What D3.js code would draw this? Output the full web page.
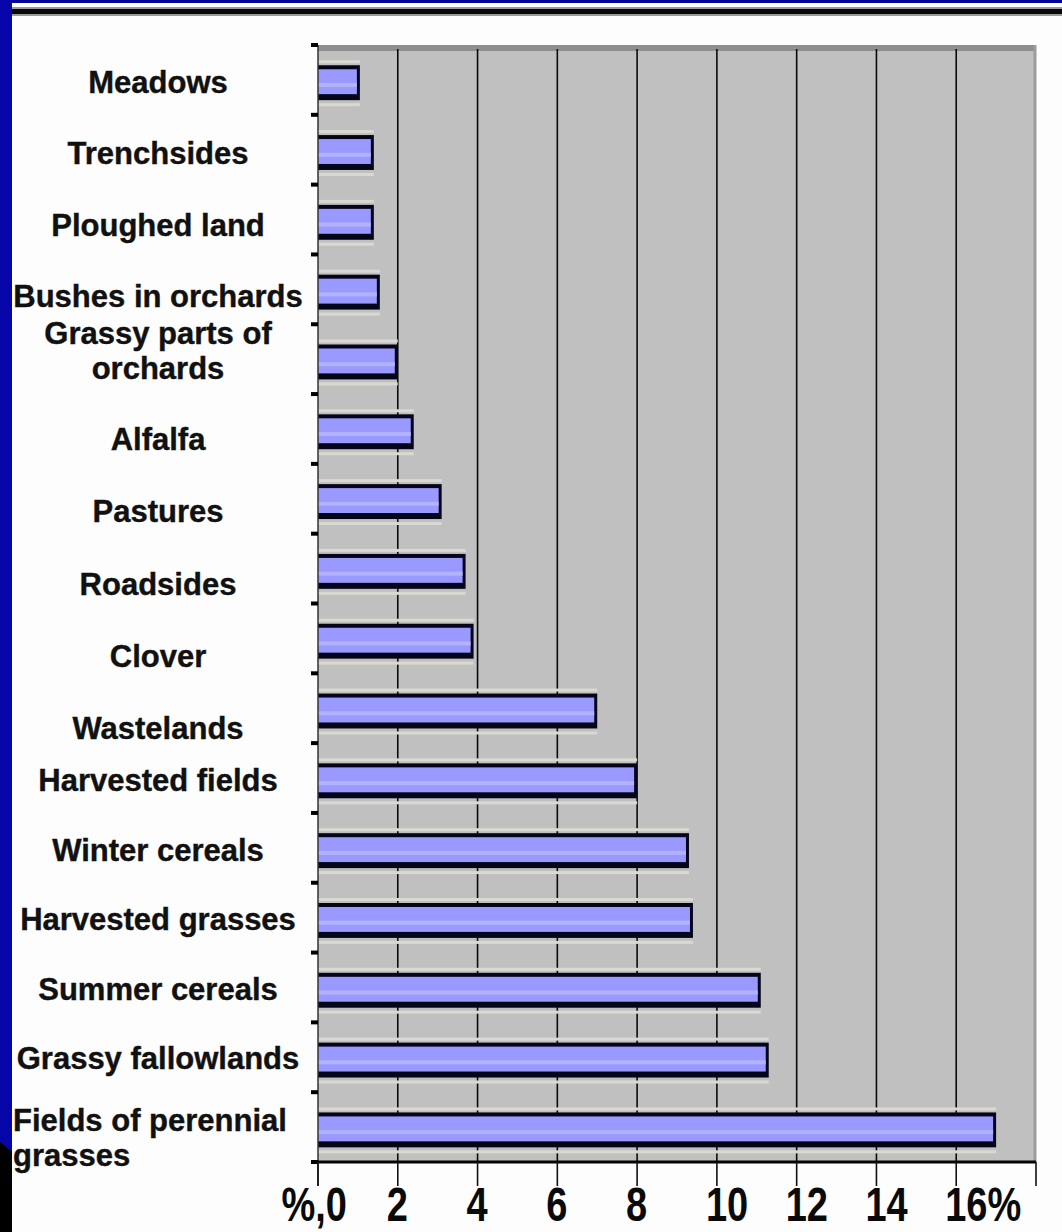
<!DOCTYPE html>
<html>
<head>
<meta charset="utf-8">
<script src="https://cdn.jsdelivr.net/npm/d3@7"></script>
<style>
  html, body { margin: 0; padding: 0; background: #fdfdfd; }
  svg { display: block; }
  text { font-family: "Liberation Sans", Arial, sans-serif; font-weight: bold; fill: #111; }
</style>
</head>
<body>
<svg id="chart" width="1062" height="1232"></svg>
<script>
// Share of finds by habitat type (%)
const categories = [
  "Meadows", "Trenchsides", "Ploughed land", "Bushes in orchards",
  "Grassy parts of\norchards", "Alfalfa", "Pastures", "Roadsides", "Clover",
  "Wastelands", "Harvested fields", "Winter cereals", "Harvested grasses",
  "Summer cereals", "Grassy fallowlands", "Fields of perennial\ngrasses"
];
const values = [1.05, 1.4, 1.4, 1.55, 2.0, 2.4, 3.1, 3.7, 3.9, 7.0, 8.0, 9.3, 9.4, 11.1, 11.3, 17.0];
const tickValues = [0, 2, 4, 6, 8, 10, 12, 14, 16];
const tickLabels = ["%,0", "2", "4", "6", "8", "10", "12", "14", "16%"];

const svg = d3.select("#chart");
const W = 1062, H = 1232;
const plot = { left: 318, right: 1036, top: 45, bottom: 1162 };

// page frame: blue strip on the left and top, black rule under the top strip
svg.append("rect").attr("x", 0).attr("y", 0).attr("width", W).attr("height", H).attr("fill", "#fdfdfd");
svg.append("rect").attr("x", 0).attr("y", 0).attr("width", W).attr("height", 3).attr("fill", "#04049a");
svg.append("rect").attr("x", 12).attr("y", 7).attr("width", W - 12).attr("height", 9).attr("fill", "#9a9a9a");
svg.append("rect").attr("x", 12).attr("y", 9).attr("width", W - 12).attr("height", 5).attr("fill", "#080808");
svg.append("rect").attr("x", 0).attr("y", 0).attr("width", 12).attr("height", 1152).attr("fill", "#0505a8");
svg.append("path").attr("d", "M0,1142 L12,1152 L12,1232 L0,1232 Z").attr("fill", "#000");

// scales
const x = d3.scaleLinear().domain([0, 18]).range([plot.left, plot.right]);
const y = d3.scaleBand().domain(categories).range([plot.top, plot.bottom]).padding(0);
const bw = y.bandwidth();

// plot background
svg.append("rect")
  .attr("x", plot.left).attr("y", plot.top)
  .attr("width", plot.right - plot.left).attr("height", plot.bottom - plot.top)
  .attr("fill", "#c0c0c0");
svg.append("rect")
  .attr("x", plot.left).attr("y", plot.top)
  .attr("width", plot.right - plot.left).attr("height", 6)
  .attr("fill", "#8e8e8e");
svg.append("line")
  .attr("x1", plot.right - 1).attr("x2", plot.right - 1)
  .attr("y1", plot.top).attr("y2", plot.bottom)
  .attr("stroke", "#9c9c9c").attr("stroke-width", 3);

// vertical gridlines
svg.append("g").selectAll("line")
  .data(tickValues.filter(d => d > 0))
  .join("line")
  .attr("x1", d => x(d)).attr("x2", d => x(d))
  .attr("y1", plot.top + 4).attr("y2", plot.bottom)
  .attr("stroke", "#0a0a0a").attr("stroke-width", 1.6);

// bars
const barTop = bw * 0.29, barH = bw * 0.5;
const bars = svg.append("g").selectAll("g")
  .data(categories.map((c, i) => ({ c, v: values[i] })))
  .join("g");

// faint light streaks hugging each bar
bars.append("rect")
  .attr("x", x(0)).attr("y", d => y(d.c) + barTop - 5)
  .attr("width", d => x(d.v) - x(0)).attr("height", 3)
  .attr("fill", "#d9d9d2");
bars.append("rect")
  .attr("x", x(0)).attr("y", d => y(d.c) + barTop + barH + 3)
  .attr("width", d => x(d.v) - x(0)).attr("height", 3)
  .attr("fill", "#d9d9d2");
// dark frame
bars.append("rect")
  .attr("x", x(0)).attr("y", d => y(d.c) + barTop)
  .attr("width", d => x(d.v) - x(0)).attr("height", barH)
  .attr("fill", "#05051a");
// fill
bars.append("rect")
  .attr("x", x(0)).attr("y", d => y(d.c) + barTop + 4)
  .attr("width", d => Math.max(0, x(d.v) - x(0) - 3)).attr("height", barH - 10)
  .attr("fill", "#9999ff");
// highlight
bars.append("rect")
  .attr("x", x(0)).attr("y", d => y(d.c) + barTop + 4 + (barH - 10) * 0.55)
  .attr("width", d => Math.max(0, x(d.v) - x(0) - 3)).attr("height", 4)
  .attr("fill", "#b2b2ff");

// left axis edge and tick marks at category boundaries
svg.append("line")
  .attr("x1", plot.left).attr("x2", plot.left)
  .attr("y1", plot.top).attr("y2", 1186)
  .attr("stroke", "#333").attr("stroke-width", 1.5);
svg.append("g").selectAll("line")
  .data(categories.map(c => y(c)).concat([plot.bottom]))
  .join("line")
  .attr("x1", plot.left - 7).attr("x2", plot.left)
  .attr("y1", d => d).attr("y2", d => d)
  .attr("stroke", "#000").attr("stroke-width", 4);

// bottom axis
svg.append("line")
  .attr("x1", plot.left).attr("x2", plot.right)
  .attr("y1", plot.bottom).attr("y2", plot.bottom)
  .attr("stroke", "#050505").attr("stroke-width", 3);
svg.append("g").selectAll("line")
  .data(tickValues.concat([18]))
  .join("line")
  .attr("x1", d => x(d)).attr("x2", d => x(d))
  .attr("y1", plot.bottom).attr("y2", 1186)
  .attr("stroke", "#111").attr("stroke-width", 1.6);

// tick labels (tall, condensed look)
svg.append("g").selectAll("text")
  .data(tickValues.map((v, i) => ({ v, t: tickLabels[i] })))
  .join("text")
  .attr("text-anchor", (d, i) => i === 0 ? "end" : "start")
  .attr("transform", (d, i) => `translate(${i === 0 ? x(d.v) + 29 : x(d.v) - 11},1221) scale(1,1.26)`)
  .attr("font-size", 38)
  .style("fill", "#0a0a0a")
  .text(d => d.t);

// category labels
const centerOf = c => y(c) + bw / 2;
const labelShift = d3.scaleLinear()
  .domain([0, 3, 4, 5, 9, 10, 14, 15])
  .range([2, 7, -9, 10, 20, 2, 1, 10]);
const lineH = 35;
const labels = svg.append("g").selectAll("text")
  .data(categories)
  .join("text")
  .attr("font-size", 31)
  .style("stroke", "#111").style("stroke-width", 0.4)
  .attr("text-anchor", (d, i) => i === categories.length - 1 ? "start" : "middle")
  .attr("x", (d, i) => i === categories.length - 1 ? 13 : 158);
labels.each(function (d, i) {
  const lines = d.split("\n");
  const cy = centerOf(d) + labelShift(i);
  const t = d3.select(this);
  lines.forEach((ln, k) => {
    t.append("tspan")
      .attr("x", t.attr("x"))
      .attr("y", cy - (lines.length - 1) * lineH / 2 + k * lineH + 11)
      .text(ln);
  });
});
</script>
</body>
</html>
